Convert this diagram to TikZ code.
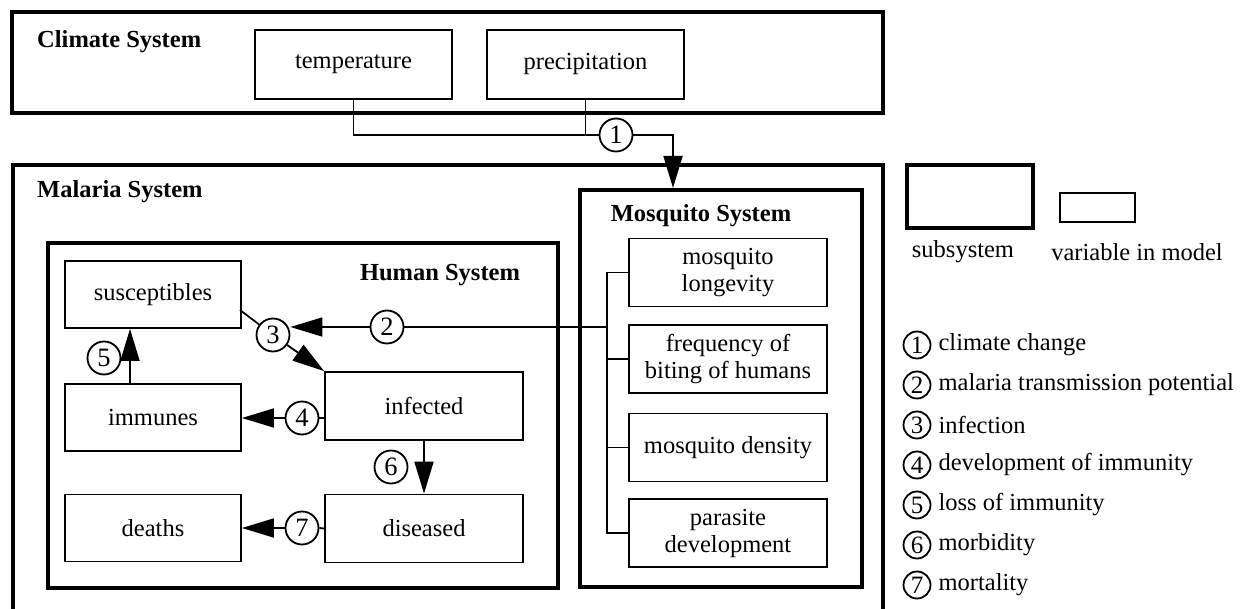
\documentclass[tikz,border=0pt]{standalone}
\usepackage{fontspec}
\setmainfont{Liberation Serif}
\usetikzlibrary{arrows.meta,calc}
\begin{document}
\begin{tikzpicture}[x=1pt,y=-1pt,
  sub/.style={draw,line width=4.5pt,inner sep=0pt},
  var/.style={draw,line width=1.8pt,inner sep=0pt,align=center,font=\fontsize{24.5}{27}\selectfont},
  lvar/.style={var,minimum width=176pt,minimum height=67pt},
  rvar/.style={var,minimum width=198pt,minimum height=68pt},
  num/.style={draw,circle,line width=1.8pt,fill=white,inner sep=0pt,minimum size=33pt,font=\fontsize{26.5}{26.5}\selectfont},
  lnum/.style={num,minimum size=27pt,font=\fontsize{25}{25}\selectfont},
  conn/.style={line width=1.8pt},
  arr/.style={conn,-{Triangle[length=32pt,width=19pt]}},
  title/.style={inner sep=0pt,font=\bfseries\fontsize{24.5}{27}\selectfont},
  txt/.style={inner sep=0pt,font=\fontsize{24.5}{27}\selectfont}
]
\useasboundingbox (0,0) rectangle (1247,609);

% Climate system
\node[sub,minimum width=871pt,minimum height=101pt] (clim) at (447.5,62.5) {};
\node[title,anchor=west] (tclim) at (37,42) {Climate System};
\node[var,minimum width=197pt,minimum height=69pt] (temp) at (353.5,64.5) {temperature};
\node[var,minimum width=197pt,minimum height=69pt] (prec) at (585.5,64.5) {precipitation};

% Malaria system (continues below the picture)
\draw[sub] (13,614) -- (13,165) -- (883,165) -- (883,614);
\node[title,anchor=west] (tmal) at (37,192) {Malaria System};

% Mosquito system
\node[sub,minimum width=282pt,minimum height=397pt] (mos) at (721,388.5) {};
\node[title] (tmos) at (701,216) {Mosquito System};
\node[rvar] (lon) at (728,272.5) {mosquito\\longevity};
\node[rvar] (freq) at (728,359) {frequency of\\biting of humans};
\node[rvar] (dens) at (728,447.5) {mosquito density};
\node[rvar] (para) at (728,533) {parasite\\development};

% Human system
\node[sub,minimum width=510pt,minimum height=345pt] (hum) at (303,415.5) {};
\node[title] (thum) at (440,275) {Human System};
\node[lvar] (sus) at (153,294.5) {susceptibles};
\node[lvar] (imm) at (153,417.5) {immunes};
\node[lvar] (dea) at (153,528) {deaths};
\node[rvar] (inf) at (424,406) {infected};
\node[rvar] (dis) at (424,528.5) {diseased};

% numbered circles
\node[num] (c1) at (616,135) {1};
\node[num] (c2) at (387,327) {2};
\node[num] (c3) at (273,335) {3};
\node[num] (c4) at (302,418) {4};
\node[num] (c5) at (104,358) {5};
\node[num] (c6) at (391,467) {6};
\node[num] (c7) at (302,528) {7};

% connector 1
\coordinate (j1) at (353.5,135);
\coordinate (a1) at (673,188);
\draw[conn] (temp.south) -- (j1) -- (j1 -| prec.south) -- (prec.south);
\draw[conn] (j1 -| prec.south) -- (c1.west);
\draw[arr] (c1.east) -| (a1);

% mosquito bracket and connector 2
\coordinate (bx) at (607,327);
\draw[conn] (lon.west) -- (lon.west -| bx) -- (para.west -| bx) -- (para.west);
\draw[conn] (freq.west) -- (freq.west -| bx);
\draw[conn] (dens.west) -- (dens.west -| bx);
\draw[conn] (bx) -- (c2.east);
\draw[arr] (c2.west) -- (c2.west -| c3.east);

% connector 3
\coordinate (s3) at (240,310);
\draw[conn] (s3) -- (c3);
\draw[arr] (c3) -- (inf.north west);

% connector 4
\draw[conn] (inf.west |- c4) -- (c4.east);
\draw[arr] (c4.west) -- (c4.west -| imm.east);

% connector 5
\coordinate (x5) at (130,400);
\draw[arr] (imm.north -| x5) -- (sus.south -| x5);

% connector 6
\draw[arr] (inf.south) -- (dis.north);

% connector 7
\draw[conn] (dis.west) -- (c7.east);
\draw[arr] (c7.west) -- (c7.west -| dea.east);

% legend
\node[sub,minimum width=126pt,minimum height=63pt] (lsub) at (970,196.5) {};
\node[var,minimum width=75pt,minimum height=29pt] (lvb) at (1097.5,207.5) {};
\node[txt] (tsub) at (963,252) {subsystem};
\node[txt] (tvar) at (1137,252) {variable in model};

\foreach \i/\lab [count=\k from 0] in {1/climate change,2/malaria transmission potential,3/infection,4/development of immunity,5/loss of immunity,6/morbidity,7/mortality}{
  \node[lnum] (l\i) at (917,345+40*\k) {\i};
  \node[txt,anchor=west] (lt\i) at ($(l\i.east)+(7,0)$) {\lab};
}
\end{tikzpicture}
\end{document}
